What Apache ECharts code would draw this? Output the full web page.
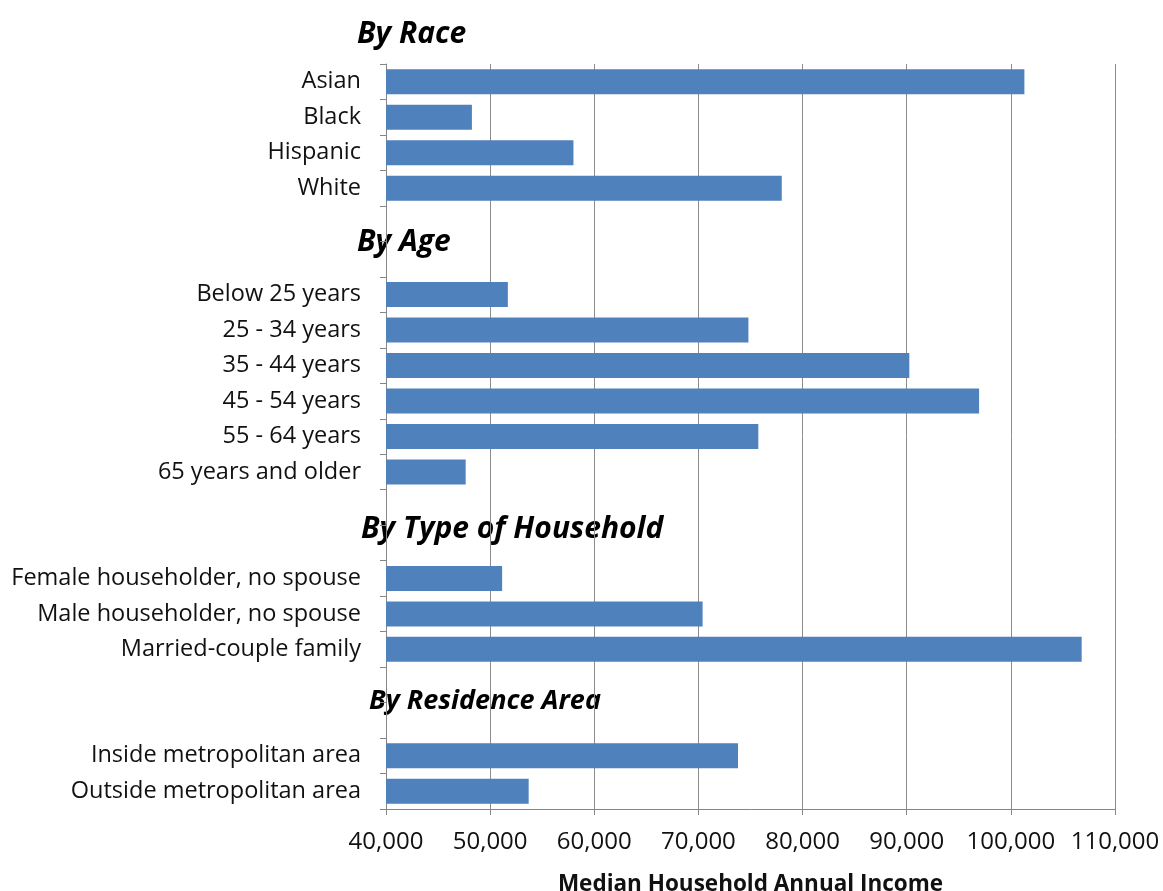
<!DOCTYPE html>
<html>
<head>
<meta charset="utf-8">
<script src="https://cdn.jsdelivr.net/npm/echarts@6/dist/echarts.min.js"></script>
<style>
html,body{margin:0;padding:0;background:#fff;}
#chart{width:1163px;height:891px;}
</style>
</head>
<body>
<div id="chart"></div>
<script>
// Categories (blank strings are spacer rows used for the group headings)
const categories = [
  'Asian', 'Black', 'Hispanic', 'White', '', ' ',
  'Below 25 years', '25 - 34 years', '35 - 44 years', '45 - 54 years', '55 - 64 years', '65 years and older',
  '  ', '   ',
  'Female householder, no spouse', 'Male householder, no spouse', 'Married-couple family',
  '    ', '     ',
  'Inside metropolitan area', 'Outside metropolitan area'
];
// Median household income values (null for spacer rows)
const incomes = [
  101300, 48250, 58000, 78000, null, null,
  51700, 74800, 90250, 96950, 75750, 47650,
  null, null,
  51150, 70400, 106800,
  null, null,
  73800, 53700
];
const groupHeadings = ['By Race', 'By Age', 'By Type of Household', 'By Residence Area'];
const xTicks = [40000, 50000, 60000, 70000, 80000, 90000, 100000, 110000];
const xAxisTitle = 'Median Household Annual Income';

const FONT = 'Open Sans';
const chart = echarts.init(document.getElementById('chart'), null, {renderer: 'canvas'});

const headingPos = [
  {left: 357, top: 19, size: 30},
  {left: 357, top: 227, size: 30},
  {left: 361, top: 514, size: 30},
  {left: 369, top: 688, size: 27}
];

chart.setOption({
  animation: false,
  backgroundColor: '#ffffff',
  grid: {left: 386, right: 48, top: 64, bottom: 82, containLabel: false, outerBoundsMode: 'none'},
  xAxis: {
    type: 'value',
    min: xTicks[0],
    max: xTicks[xTicks.length - 1],
    interval: xTicks[1] - xTicks[0],
    name: xAxisTitle,
    nameLocation: 'middle',
    nameGap: 64,
    nameTextStyle: {fontFamily: FONT, fontWeight: 'bold', fontSize: 22.5, color: '#111'},
    axisLine: {show: true, lineStyle: {color: '#868686', width: 1}},
    axisTick: {show: true, length: 6, lineStyle: {color: '#868686'}},
    axisLabel: {
      fontFamily: FONT, fontSize: 24, color: '#111', margin: 21,
      formatter: v => v.toLocaleString('en-US')
    },
    splitLine: {show: true, lineStyle: {color: '#8c8c8c', width: 1}}
  },
  yAxis: {
    type: 'category',
    inverse: true,
    data: categories,
    axisLine: {show: true, lineStyle: {color: '#868686', width: 1}},
    axisTick: {show: true, length: 6, lineStyle: {color: '#868686'}},
    axisLabel: {fontFamily: FONT, fontSize: 23.5, color: '#111', margin: 25, interval: 0}
  },
  series: [{
    type: 'bar',
    data: incomes,
    barWidth: 25,
    itemStyle: {color: '#4f81bd'}
  }],
  graphic: groupHeadings.map((t, i) => ({
    type: 'text',
    left: headingPos[i].left,
    top: headingPos[i].top,
    style: {
      text: t,
      fontFamily: FONT,
      fontWeight: 'bold',
      fontStyle: 'italic',
      fontSize: headingPos[i].size,
      fill: '#000'
    }
  }))
});
</script>
</body>
</html>
